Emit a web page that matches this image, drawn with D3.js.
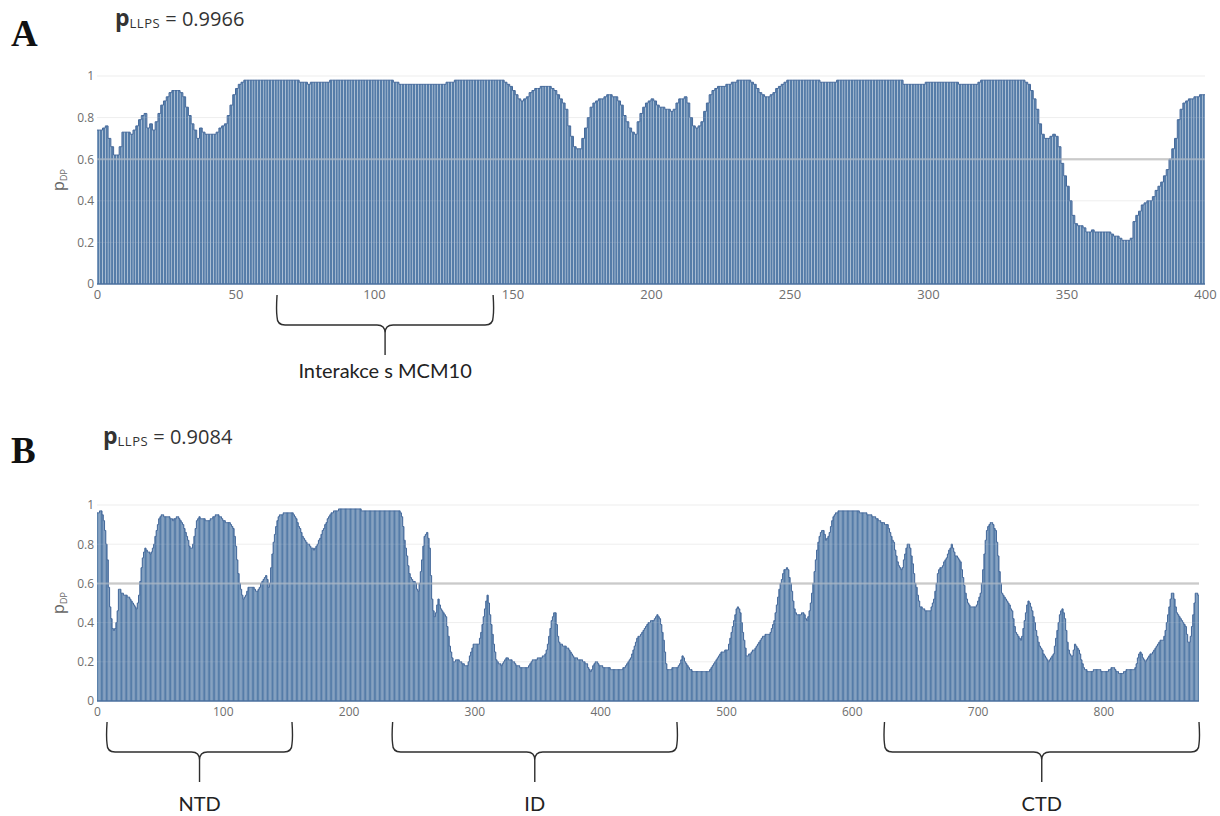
<!DOCTYPE html>
<html>
<head>
<meta charset="utf-8">
<script src="https://cdn.jsdelivr.net/npm/d3@7"></script>
<style>
  body { margin: 0; background: #fff; }
  svg text { font-family: "Open Sans", sans-serif; }
  .axis text { fill: #6e6e6e; }
  .brace { fill: none; stroke: #2e2e2e; stroke-width: 1.4px; }
  .brace-lbl { font-family: "Lato", sans-serif !important; fill: #222; }
  .letter { font-family: "Liberation Serif", serif !important; font-weight: bold; fill: #111; }
</style>
</head>
<body>
<script>
// per-residue p_DP, panel A (400 residues)
var valuesA = [
  .74,.74,.75,.76,.70,.66,.62,.62,.66,.73,.73,.73,.72,.74,.76,.79,.81,.82,.75,.77,
  .74,.78,.82,.86,.88,.90,.92,.93,.93,.93,.92,.90,.85,.81,.77,.74,.70,.75,.73,.72,
  .72,.72,.72,.73,.75,.76,.77,.81,.86,.91,.94,.96,.97,.98,.98,.98,.98,.98,.98,.98,
  .98,.98,.98,.98,.98,.98,.98,.98,.98,.98,.98,.98,.98,.97,.97,.97,.96,.97,.97,.97,
  .97,.97,.97,.97,.98,.98,.98,.98,.98,.98,.98,.98,.98,.98,.98,.98,.98,.98,.98,.98,
  .98,.98,.98,.98,.98,.98,.98,.97,.97,.96,.96,.96,.96,.96,.96,.96,.96,.96,.96,.96,
  .96,.96,.96,.96,.96,.96,.97,.97,.97,.98,.98,.98,.98,.98,.98,.98,.98,.98,.98,.98,
  .98,.98,.98,.98,.98,.98,.98,.97,.96,.95,.93,.91,.89,.88,.89,.90,.92,.93,.94,.94,
  .95,.95,.95,.95,.94,.93,.91,.89,.87,.84,.76,.71,.66,.65,.65,.70,.75,.80,.85,.87,
  .88,.89,.89,.90,.91,.91,.90,.90,.88,.86,.81,.78,.75,.73,.72,.78,.82,.85,.87,.88,
  .89,.88,.86,.85,.85,.84,.84,.83,.84,.87,.89,.89,.90,.87,.80,.76,.75,.76,.78,.83,
  .87,.91,.93,.94,.95,.95,.95,.96,.96,.97,.97,.98,.98,.98,.98,.98,.97,.96,.94,.92,
  .91,.90,.90,.91,.92,.94,.95,.96,.97,.98,.98,.98,.98,.98,.98,.98,.98,.98,.98,.98,
  .98,.97,.97,.97,.97,.97,.97,.98,.98,.98,.98,.98,.98,.98,.98,.98,.98,.98,.98,.98,
  .98,.98,.98,.98,.98,.98,.98,.98,.98,.98,.98,.96,.96,.96,.96,.96,.96,.96,.96,.97,
  .97,.97,.97,.97,.97,.97,.97,.97,.97,.97,.97,.96,.96,.96,.96,.96,.96,.96,.97,.98,
  .98,.98,.98,.98,.98,.98,.98,.98,.98,.98,.98,.98,.98,.98,.98,.97,.96,.93,.89,.84,
  .77,.72,.70,.70,.71,.72,.71,.66,.58,.52,.47,.40,.33,.29,.28,.28,.27,.25,.25,.26,
  .25,.25,.25,.25,.25,.25,.24,.23,.23,.22,.21,.21,.21,.22,.30,.33,.35,.38,.39,.40,
  .40,.42,.45,.47,.49,.52,.55,.60,.65,.70,.79,.84,.87,.88,.89,.89,.90,.90,.91,.91
];

// per-residue p_DP, panel B (876 residues)
var valuesB = [
  .96,.96,.97,.97,.95,.92,.87,.80,.72,.58,.48,.42,.37,.36,.37,.40,.46,.57,.57,.55,
  .55,.54,.54,.54,.53,.53,.52,.51,.50,.49,.48,.47,.50,.54,.61,.68,.73,.76,.78,.77,
  .76,.76,.75,.76,.78,.80,.84,.87,.90,.93,.94,.95,.95,.94,.94,.94,.94,.94,.93,.93,
  .92,.93,.93,.94,.94,.93,.92,.91,.90,.88,.86,.84,.82,.79,.78,.78,.80,.84,.88,.92,
  .93,.94,.93,.93,.93,.93,.92,.92,.92,.92,.93,.93,.94,.94,.95,.95,.95,.94,.94,.93,
  .92,.92,.91,.91,.91,.91,.90,.89,.88,.84,.79,.72,.65,.60,.57,.54,.52,.53,.54,.56,
  .58,.58,.58,.58,.58,.57,.56,.56,.57,.58,.60,.61,.62,.63,.64,.62,.58,.60,.68,.75,
  .81,.85,.89,.92,.94,.95,.95,.95,.96,.96,.96,.96,.96,.96,.96,.96,.95,.94,.93,.91,
  .89,.88,.86,.84,.83,.82,.81,.80,.80,.79,.78,.78,.77,.78,.79,.80,.82,.83,.85,.87,
  .88,.90,.91,.93,.94,.95,.96,.96,.97,.97,.97,.97,.98,.98,.98,.98,.98,.98,.98,.98,
  .98,.98,.98,.98,.98,.98,.98,.98,.98,.98,.97,.97,.97,.97,.97,.97,.97,.97,.97,.97,
  .97,.97,.97,.97,.97,.97,.97,.97,.97,.97,.97,.97,.97,.97,.97,.97,.97,.97,.97,.97,
  .97,.96,.94,.89,.82,.78,.74,.69,.65,.63,.62,.61,.61,.60,.57,.56,.60,.66,.72,.79,
  .84,.85,.86,.83,.78,.64,.52,.46,.43,.45,.49,.52,.49,.47,.46,.45,.44,.43,.38,.33,
  .28,.25,.22,.20,.20,.21,.21,.21,.20,.20,.19,.19,.18,.18,.18,.20,.23,.25,.27,.29,
  .29,.29,.29,.29,.32,.35,.39,.43,.47,.51,.54,.50,.44,.39,.34,.29,.25,.21,.20,.19,
  .19,.18,.19,.20,.21,.22,.22,.21,.21,.21,.20,.20,.19,.18,.18,.18,.17,.17,.17,.17,
  .17,.17,.17,.18,.19,.20,.21,.21,.21,.21,.22,.22,.22,.22,.23,.23,.24,.26,.29,.33,
  .37,.41,.43,.45,.45,.39,.33,.30,.29,.29,.28,.28,.28,.27,.27,.26,.25,.24,.23,.22,
  .22,.22,.21,.21,.21,.21,.20,.20,.19,.19,.17,.16,.15,.16,.18,.19,.20,.20,.19,.18,
  .18,.18,.17,.17,.17,.17,.17,.17,.16,.16,.16,.16,.16,.16,.16,.16,.16,.16,.17,.17,
  .18,.19,.20,.21,.22,.24,.26,.28,.30,.32,.33,.33,.34,.35,.36,.37,.38,.39,.40,.40,
  .41,.41,.41,.42,.43,.44,.43,.42,.39,.35,.31,.25,.19,.16,.16,.16,.16,.17,.17,.17,
  .17,.17,.18,.19,.21,.23,.22,.20,.19,.18,.17,.16,.16,.15,.15,.15,.15,.15,.15,.15,
  .15,.15,.15,.15,.15,.15,.15,.16,.17,.18,.19,.20,.21,.22,.23,.24,.25,.25,.25,.26,
  .26,.26,.29,.32,.35,.38,.41,.44,.47,.48,.47,.45,.40,.35,.31,.27,.23,.23,.24,.24,
  .25,.26,.26,.27,.28,.29,.30,.31,.32,.33,.33,.34,.34,.34,.34,.35,.37,.39,.41,.45,
  .49,.53,.57,.60,.62,.65,.67,.67,.68,.67,.63,.60,.56,.51,.47,.45,.44,.44,.44,.44,
  .45,.45,.44,.42,.41,.43,.46,.50,.55,.60,.66,.72,.77,.81,.84,.86,.87,.87,.85,.82,
  .83,.84,.86,.89,.92,.94,.95,.96,.96,.97,.97,.97,.97,.97,.97,.97,.97,.97,.97,.97,
  .97,.97,.97,.97,.97,.97,.96,.96,.96,.96,.96,.96,.95,.95,.95,.95,.94,.94,.94,.93,
  .93,.92,.92,.91,.91,.91,.90,.90,.90,.88,.86,.84,.82,.81,.77,.74,.71,.69,.68,.67,
  .68,.72,.75,.78,.80,.80,.78,.74,.70,.65,.60,.58,.54,.51,.48,.48,.47,.47,.46,.46,
  .46,.46,.46,.48,.50,.52,.56,.60,.65,.67,.68,.68,.69,.71,.72,.73,.75,.77,.78,.80,
  .78,.76,.74,.74,.73,.72,.71,.67,.63,.59,.55,.52,.50,.49,.48,.48,.48,.48,.48,.49,
  .51,.53,.55,.60,.67,.75,.82,.87,.89,.90,.91,.91,.90,.88,.87,.81,.74,.66,.60,.55,
  .54,.53,.52,.51,.50,.49,.47,.46,.42,.38,.35,.34,.33,.32,.31,.33,.37,.41,.45,.49,
  .51,.50,.48,.46,.43,.40,.36,.33,.30,.28,.27,.26,.24,.23,.22,.21,.20,.21,.22,.23,
  .24,.28,.32,.36,.40,.44,.46,.47,.45,.42,.36,.30,.26,.24,.23,.23,.26,.29,.28,.27,
  .26,.24,.21,.19,.17,.16,.16,.15,.15,.15,.15,.15,.16,.16,.16,.16,.16,.16,.15,.15,
  .15,.15,.15,.15,.16,.16,.17,.17,.17,.16,.15,.15,.14,.14,.14,.14,.15,.15,.16,.16,
  .16,.16,.16,.16,.16,.17,.19,.22,.24,.25,.24,.22,.21,.20,.21,.22,.23,.24,.24,.25,
  .26,.27,.28,.29,.30,.31,.31,.31,.33,.36,.40,.44,.48,.52,.55,.55,.52,.48,.45,.44,
  .43,.42,.41,.40,.39,.38,.34,.30,.30,.33,.38,.44,.50,.55,.55,.54
];

var xTicksA = [0, 50, 100, 150, 200, 250, 300, 350, 400];
var xTicksB = [0, 100, 200, 300, 400, 500, 600, 700, 800];
var yTicks = [0, 0.2, 0.4, 0.6, 0.8, 1];
var threshold = 0.6;

var llpsA = "0.9966";
var llpsB = "0.9084";

var braceNamesA = ["Interakce s MCM10"];
var braceStartA = [65];
var braceEndA = [143];

var braceNamesB = ["NTD", "ID", "CTD"];
var braceStartB = [8, 235, 626];
var braceEndB = [155, 461, 876];

var svg = d3.select("body").append("svg")
  .attr("width", 1220)
  .attr("height", 816);

/*
* draws one p_DP bar profile with its labels and braces
*/
function drawPanel(p) {
  var x = d3.scaleLinear().domain([0, p.xMax]).range([p.left, p.right]);
  var y = d3.scaleLinear().domain([0, 1]).range([p.bottom, p.top]);
  var w = x(1) - x(0);
  var g = svg.append("g");

  // grid behind the bars
  g.selectAll("line.grid")
    .data(yTicks.filter(function(t) { return t > 0; }))
    .enter().append("line")
    .attr("class", "grid")
    .attr("x1", x(0)).attr("x2", x(p.xMax))
    .attr("y1", function(d) { return y(d); })
    .attr("y2", function(d) { return y(d); })
    .attr("stroke", function(d) { return d === threshold ? "#b8b8b8" : "#ededed"; })
    .attr("stroke-width", function(d) { return d === threshold ? 2 : 1; });

  g.selectAll("rect.bar")
    .data(p.values)
    .enter().append("rect")
    .attr("class", "bar")
    .attr("x", function(d, i) { return x(i) + w * (1 - p.barFrac) / 2; })
    .attr("width", w * p.barFrac)
    .attr("y", function(d) { return y(d); })
    .attr("height", function(d) { return y(0) - y(d); })
    .attr("fill", "#557ca8");

  // darker outline along the bar tops
  var pts = p.values.map(function(v, i) { return [x(i), y(v)]; });
  pts.push([x(p.values.length), y(p.values[p.values.length - 1])]);
  g.append("path")
    .attr("d", d3.line().curve(d3.curveStepAfter)(pts))
    .attr("fill", "none")
    .attr("stroke", "#44689a")
    .attr("stroke-width", 1);

  g.append("line")
    .attr("x1", x(0)).attr("x2", x(p.values.length))
    .attr("y1", y(0)).attr("y2", y(0))
    .attr("stroke", "#4a6f9e").attr("stroke-width", 1.5);

  // grid seen through the bars
  g.selectAll("line.over")
    .data(yTicks.filter(function(t) { return t > 0; }))
    .enter().append("line")
    .attr("class", "over")
    .attr("x1", x(0)).attr("x2", x(p.xMax))
    .attr("y1", function(d) { return y(d); })
    .attr("y2", function(d) { return y(d); })
    .attr("stroke", function(d) { return d === threshold ? "rgba(225,225,225,0.45)" : "rgba(255,255,255,0.12)"; })
    .attr("stroke-width", function(d) { return d === threshold ? 2 : 1; });

  var ya = g.append("g").attr("class", "axis")
    .attr("transform", "translate(" + (p.left - 3) + ",0)")
    .call(d3.axisLeft(y).tickValues(yTicks).tickSize(0).tickPadding(0).tickFormat(d3.format("~g")));
  ya.select(".domain").remove();
  ya.selectAll("text").style("font-size", p.yFont + "px");

  var xa = g.append("g").attr("class", "axis")
    .attr("transform", "translate(0," + p.bottom + ")")
    .call(d3.axisBottom(x).tickValues(p.xTicks).tickSize(0).tickPadding(6));
  xa.select(".domain").remove();
  xa.selectAll("text").style("font-size", p.xFont + "px");

  // y title p_DP
  var yl = g.append("text")
    .attr("transform", "translate(" + p.yLabelX + "," + ((p.top + p.bottom) / 2) + ") rotate(-90)")
    .attr("text-anchor", "middle")
    .attr("fill", "#666");
  yl.append("tspan").text("p").style("font-size", "16px");
  yl.append("tspan").text("DP").attr("dy", 3).style("font-size", "9px");

  // panel letter
  svg.append("text").attr("class", "letter")
    .attr("x", 11).attr("y", p.letterY)
    .style("font-size", "37px")
    .text(p.letter);

  // p_LLPS header
  var t = svg.append("text")
    .attr("x", p.titleX).attr("y", p.titleY)
    .attr("fill", "#333");
  t.append("tspan").text("p").style("font-size", "23px").style("font-weight", "bold");
  t.append("tspan").text("LLPS").attr("dy", 1.5).style("font-size", "13px")
    .style("letter-spacing", "0.5px");
  t.append("tspan").text(" = " + p.llps).attr("dy", -1.5).style("font-size", "20px");

  // braces under the axis
  p.braceStart.forEach(function(s, i) {
    var x1 = x(s), x2 = x(p.braceEnd[i]), xm = (x1 + x2) / 2;
    var yT = p.braceTop, yH = p.braceTop + 30, yB = p.braceTop + 60, r = 8;
    var d = "M" + x1 + "," + yT +
      " C" + (x1 - 1) + "," + (yT + 15) + " " + x1 + "," + (yH - r) + " " + x1 + "," + (yH - r) +
      " Q" + x1 + "," + yH + " " + (x1 + r) + "," + yH +
      " L" + (xm - r) + "," + yH +
      " Q" + xm + "," + yH + " " + xm + "," + (yH + r) +
      " L" + xm + "," + yB +
      " M" + xm + "," + (yH + r) +
      " Q" + xm + "," + yH + " " + (xm + r) + "," + yH +
      " L" + (x2 - r) + "," + yH +
      " Q" + x2 + "," + yH + " " + x2 + "," + (yH - r) +
      " C" + x2 + "," + (yH - r) + " " + (x2 + 1) + "," + (yT + 15) + " " + x2 + "," + yT;
    svg.append("path").attr("class", "brace").attr("d", d);
    svg.append("text").attr("class", "brace-lbl")
      .attr("x", xm).attr("y", p.braceLabelY)
      .attr("text-anchor", "middle")
      .style("font-size", "20px")
      .text(p.braceNames[i]);
  });
}

drawPanel({
  values: valuesA, xMax: 400, xTicks: xTicksA, barFrac: 0.84,
  left: 97, right: 1205, top: 76, bottom: 284,
  yFont: 12, xFont: 13, yLabelX: 64,
  letter: "A", letterY: 46,
  titleX: 115, titleY: 26, llps: llpsA,
  braceNames: braceNamesA, braceStart: braceStartA, braceEnd: braceEndA,
  braceTop: 295, braceLabelY: 378
});

drawPanel({
  values: valuesB, xMax: 876, xTicks: xTicksB, barFrac: 0.93,
  left: 97, right: 1199, top: 505, bottom: 701,
  yFont: 12, xFont: 12, yLabelX: 64,
  letter: "B", letterY: 463,
  titleX: 103, titleY: 444, llps: llpsB,
  braceNames: braceNamesB, braceStart: braceStartB, braceEnd: braceEndB,
  braceTop: 722, braceLabelY: 811
});
</script>
</body>
</html>
